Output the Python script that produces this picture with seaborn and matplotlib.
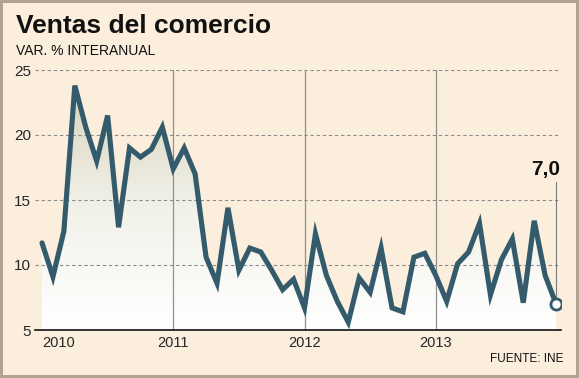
import numpy as np
import pandas as pd
import seaborn as sns
import matplotlib.pyplot as plt
from matplotlib.colors import LinearSegmentedColormap

# monthly data, Jan 2010 - Dec 2013
values = [11.7, 9.1, 12.6, 23.8, 20.6, 18.0, 21.5, 12.9, 19.0, 18.3, 18.9, 20.6,
          17.4, 19.0, 17.0, 10.6, 8.6, 14.4, 9.6, 11.3, 11.0, 9.6, 8.1, 8.9,
          6.7, 12.4, 9.2, 7.2, 5.6, 9.0, 7.9, 11.3, 6.7, 6.4, 10.6, 10.9,
          9.2, 7.2, 10.1, 11.0, 13.2, 7.7, 10.4, 12.0, 7.1, 13.4, 9.2, 7.0]
years = ['2010', '2011', '2012', '2013']
year_pos = [0, 12, 24, 36]
yticks = [5, 10, 15, 20, 25]

df = pd.DataFrame({'mes': np.arange(len(values)), 'var': values})

bg = '#fbeedc'
line_c = '#345b6c'

sns.set_style('white')
plt.rcParams['font.family'] = ['Liberation Sans', 'DejaVu Sans']

fig = plt.figure(figsize=(5.79, 3.78), dpi=100)
fig.patch.set_facecolor(bg)
fig.patch.set_edgecolor('#b3a391')
fig.patch.set_linewidth(3)
ax = fig.add_axes([35 / 579, 1 - 330 / 378, (561 - 35) / 579, 260 / 378])
ax.set_facecolor(bg)

xmin, xmax = -0.64, 47.45
ax.set_xlim(xmin, xmax)
ax.set_ylim(5, 25)

# gradient fill under the line
poly = ax.fill_between(df['mes'], df['var'], 5, facecolor='none', edgecolor='none')
cmap = LinearSegmentedColormap.from_list('g', ['#ffffff', '#f1f0e8', '#d2cfb4'])
grad = np.linspace(0, 1, 256).reshape(-1, 1)
im = ax.imshow(grad, extent=[xmin, xmax, 5, 25], origin='lower', aspect='auto',
               cmap=cmap, zorder=1)
im.set_clip_path(poly.get_paths()[0], transform=ax.transData)

for yv in yticks[1:]:
    ax.axhline(yv, color='#8a8a8a', lw=0.8, ls=(0, (3, 2.5)), zorder=2)
for xv in year_pos[1:]:
    ax.axvline(xv, color='#909090', lw=0.9, zorder=2)

sns.lineplot(data=df, x='mes', y='var', ax=ax, color=line_c, lw=3.7, zorder=4)
ax.lines[-1].set_solid_joinstyle('miter')

last_x, last_y = df['mes'].iloc[-1], df['var'].iloc[-1]
ax.plot([last_x, last_x], [last_y, 16.4], color='#7a7a7a', lw=0.8, zorder=3)
ax.plot([last_x], [last_y], marker='o', ms=8, mfc='white', mec=line_c, mew=2, zorder=5)
ax.text(last_x + 0.4, 16.6, f'{last_y:.1f}'.replace('.', ','), ha='right', va='bottom',
        fontsize=15, fontweight='bold', color='#111111')

for s in ['top', 'right', 'left']:
    ax.spines[s].set_visible(False)
ax.spines['bottom'].set_color('#111111')
ax.spines['bottom'].set_linewidth(1.2)
ax.spines['bottom'].set_zorder(6)

ax.set_yticks(yticks)
ax.set_yticklabels([str(v) for v in yticks], fontsize=11)
ax.set_xticks(year_pos)
ax.set_xticklabels(years, fontsize=10.5)
ax.get_xticklabels()[0].set_horizontalalignment('left')
ax.tick_params(axis='y', length=0, pad=3)
ax.tick_params(axis='x', length=0, pad=4)
ax.set_xlabel('')
ax.set_ylabel('')

fig.text(16 / 579, 1 - 33 / 378, 'Ventas del comercio', fontsize=19, fontweight='bold',
         va='baseline', ha='left', color='#111111')
fig.text(16 / 579, 1 - 55 / 378, 'VAR. % INTERANUAL', fontsize=10, va='baseline',
         ha='left', color='#111111')
fig.text(563 / 579, 1 - 359 / 378, 'FUENTE: INE', fontsize=8.5, va='center', ha='right',
         color='#111111')

fig.savefig('out.png', dpi=100, facecolor=bg, edgecolor=fig.get_edgecolor())
